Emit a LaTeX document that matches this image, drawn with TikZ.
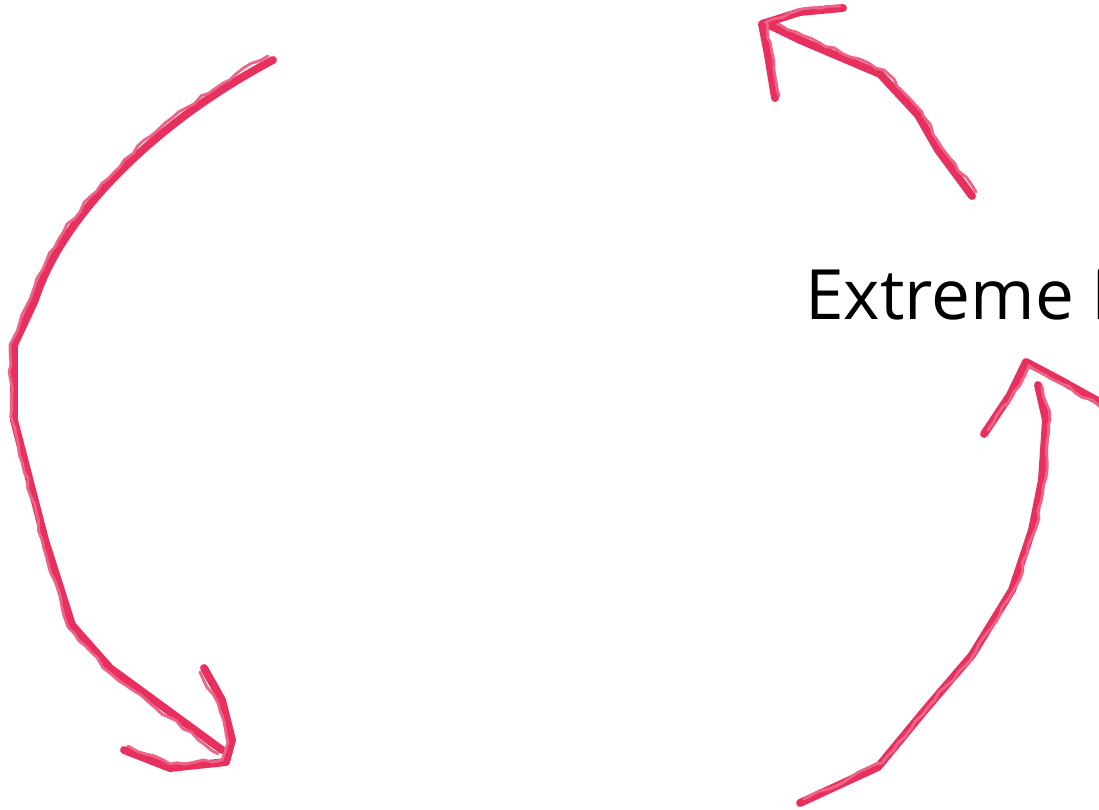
\documentclass[tikz,border=0pt]{standalone}
\usepackage{fontspec}
\setmainfont{Open Sans}
\usepackage{tikz}
\usetikzlibrary{decorations.pathmorphing}
\usepackage{xcolor}
\definecolor{scribble}{HTML}{E8305F}

\tikzset{
  pen/.style={draw=scribble,line width=4.5pt,line cap=round,line join=round},
  rough/.style={draw=scribble!75,line width=1.6pt,line cap=round,
    decorate,decoration={random steps,segment length=5pt,amplitude=1pt}},
}

\begin{document}
\begin{tikzpicture}[x=0.02cm,y=-0.02cm,font=\fontsize{39.5}{48}\selectfont,line cap=round]
\useasboundingbox[clip] (0,0) rectangle (1099,810);
\fill[white] (0,0) rectangle (1099,810);
% label
\node[anchor=base west,inner sep=0pt] (title) at (805,320) {Extreme\hspace{-0.5pt} Programming};
% left arrow
\draw[pen] (273,60) .. controls (150,125) and (60,220) .. (35,300)
  -- (14,345) -- (14,420) -- (45,540) -- (72,625)
  -- (110,668) -- (222,750);
\draw[rough] (268,56) .. controls (145,122) and (56,218) .. (31,298)
  -- (10,345) -- (12,420) -- (42,540) -- (68,627) -- (106,670) -- (218,754);
\draw[pen] (204,668) -- (222,700) -- (232,740) -- (226,762)
  -- (170,768) -- (124,750);
\draw[rough] (200,672) -- (218,703) -- (228,742) -- (222,760) -- (170,764) -- (128,746);
% top arrow
\draw[pen] (972,196) -- (938,150) -- (918,115) -- (880,74) -- (800,40) -- (765,23);
\draw[rough] (976,192) -- (942,148) -- (922,112) -- (884,70) -- (804,36) -- (770,20);
\draw[pen] (775,98) -- (768,55) -- (762,24) -- (800,12) -- (843,8);
\draw[rough] (779,96) -- (772,53) -- (766,22) -- (802,9) -- (840,6);
% right arrow
\draw[pen] (800,803) -- (878,767) -- (925,710) -- (972,655)
  -- (1012,590) -- (1032,530) -- (1042,480) -- (1046,420) -- (1038,385);
\draw[rough] (804,799) -- (882,763) -- (929,706) -- (976,651)
  -- (1016,586) -- (1036,528) -- (1046,478) -- (1050,420) -- (1042,386);
\draw[pen] (984,434) -- (1010,395) -- (1026,362) -- (1060,380) -- (1105,405);
\draw[rough] (988,430) -- (1014,392) -- (1029,366) -- (1062,384) -- (1105,409);
\end{tikzpicture}
\end{document}
